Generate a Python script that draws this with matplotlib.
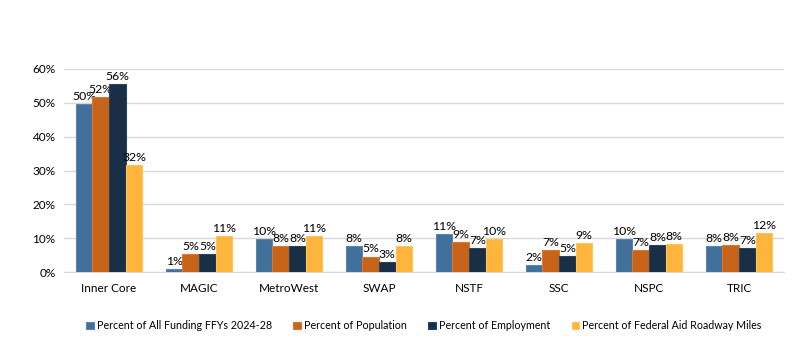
import numpy as np
import matplotlib.pyplot as plt

plt.rcParams['font.family'] = ['Lato', 'DejaVu Sans']

regions = ['Inner Core', 'MAGIC', 'MetroWest', 'SWAP', 'NSTF', 'SSC', 'NSPC', 'TRIC']
funding = [49.6, 0.9, 9.8, 7.6, 11.2, 2.1, 9.8, 7.7]
population = [51.8, 5.3, 7.6, 4.6, 8.9, 6.6, 6.6, 7.9]
employment = [55.6, 5.3, 7.7, 3.0, 7.1, 4.7, 7.9, 7.2]
roadway = [31.6, 10.6, 10.6, 7.6, 9.9, 8.7, 8.3, 11.6]

series = [
    ('Percent of All Funding FFYs 2024-28', funding, '#41709a', '#5a86ad'),
    ('Percent of Population', population, '#c8631a', '#d9782e'),
    ('Percent of Employment', employment, '#182f45', '#2a4660'),
    ('Percent of Federal Aid Roadway Miles', roadway, '#fdb53e', '#ffc555'),
]

fig, ax = plt.subplots(figsize=(8, 3.52), dpi=100)
fig.subplots_adjust(left=0.08, right=0.98, bottom=0.227, top=0.804)

x = np.arange(len(regions))
w = 0.185
for i, (name, vals, col, edge) in enumerate(series):
    bars = ax.bar(x + (i - 1.5) * w, vals, w, color=col, edgecolor=edge, linewidth=0.8,
                  label=name, zorder=3)
    ax.bar_label(bars, labels=['%d%%' % round(v) for v in vals], padding=1.5, fontsize=8.8)

ax.set_xlim(-0.5, len(regions) - 0.5)
ax.set_ylim(0, 60)
ax.set_yticks(range(0, 61, 10))
ax.set_yticklabels(['%d%%' % t for t in range(0, 61, 10)])
ax.set_xticks(x)
ax.set_xticklabels(regions)
ax.yaxis.grid(True, color='#d9d9d9', linewidth=1, zorder=0)
for s in ['top', 'right', 'left']:
    ax.spines[s].set_visible(False)
ax.spines['bottom'].set_color('#d9d9d9')
ax.tick_params(axis='x', length=0, labelsize=8.5, pad=8)
ax.tick_params(axis='y', length=0, labelsize=8.5, pad=6)

ax.legend(loc='upper center', bbox_to_anchor=(0.5, -0.19), ncol=4, frameon=False,
          fontsize=7.7, handlelength=0.7, handleheight=0.7, handletextpad=0.3, columnspacing=2.0)

plt.savefig('out.png')
